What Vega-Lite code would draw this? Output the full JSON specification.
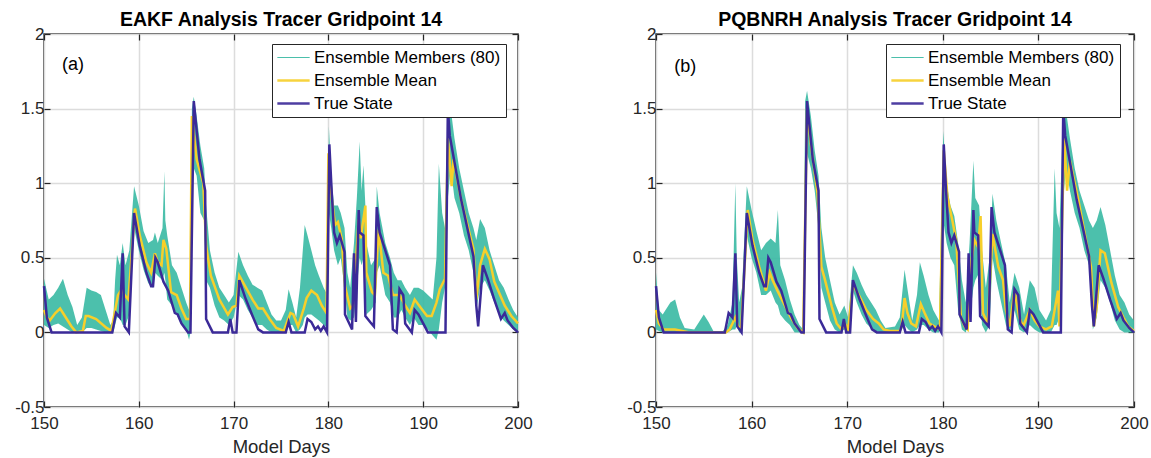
{
"$schema": "https://vega.github.io/schema/vega-lite/v6.json",
"padding": {"left": 13, "top": 8, "right": 0, "bottom": 0},
"spacing": 138,
"bounds": "flush",
"config": {
  "font": "Liberation Sans",
  "view": {"stroke": "#262626", "strokeWidth": 1.5},
  "axis": {"labelFont": "Liberation Sans", "labelFontSize": 17, "labelColor": "#262626", "labelFlush": false, "labelOverlap": false, "titleFont": "Liberation Sans", "titleFontSize": 18.5, "titleFontWeight": "normal", "titleColor": "#262626", "gridColor": "#dcdcdc", "gridWidth": 1.5, "domain": false, "tickColor": "#262626", "tickSize": -6, "tickWidth": 1.2},
  "title": {"font": "Liberation Sans", "fontSize": 19.5, "fontWeight": "bold", "color": "#000000", "offset": -5},
  "legend": {"labelLimit": 400}
},
"datasets": {
 "truth": [
  {"d":150,"v":0.31},{"d":150.3,"v":0.1},{"d":150.8,"v":0},{"d":157.2,"v":0},{"d":157.6,"v":0.13},{"d":158,"v":0.1},{"d":158.3,"v":0.53},{"d":158.5,"v":0.04},{"d":158.95,"v":0},{"d":159.5,"v":0.8},{"d":160.1,"v":0.58},{"d":160.8,"v":0.4},{"d":161.3,"v":0.31},{"d":161.5,"v":0.31},{"d":161.75,"v":0.5},{"d":162,"v":0.47},{"d":162.6,"v":0.34},{"d":163.1,"v":0.28},{"d":163.8,"v":0.13},{"d":164.1,"v":0.12},{"d":164.5,"v":0.06},{"d":165.2,"v":0},{"d":165.45,"v":0},{"d":165.8,"v":1.55},{"d":166.4,"v":1.16},{"d":167,"v":0.95},{"d":167.1,"v":0.09},{"d":167.8,"v":0},{"d":169.4,"v":0},{"d":169.65,"v":0.09},{"d":169.9,"v":0},{"d":170.3,"v":0},{"d":170.6,"v":0.35},{"d":171.3,"v":0.22},{"d":172,"v":0.11},{"d":172.6,"v":0.02},{"d":173.1,"v":0},{"d":175.5,"v":0},{"d":175.8,"v":0.07},{"d":176.1,"v":0},{"d":177.5,"v":0},{"d":177.8,"v":0.09},{"d":178.2,"v":0.07},{"d":178.6,"v":0.02},{"d":178.9,"v":0.04},{"d":179.2,"v":0.01},{"d":179.5,"v":0.04},{"d":179.85,"v":0},{"d":180.1,"v":1.26},{"d":180.35,"v":0.94},{"d":180.6,"v":0.67},{"d":180.9,"v":0.6},{"d":181.2,"v":0.65},{"d":181.7,"v":0.54},{"d":181.75,"v":0.12},{"d":182.5,"v":0.02},{"d":182.7,"v":0.53},{"d":182.9,"v":0.07},{"d":183.2,"v":0.82},{"d":183.3,"v":0.67},{"d":183.7,"v":0.65},{"d":183.9,"v":0.11},{"d":184.4,"v":0.07},{"d":184.8,"v":0.04},{"d":185.1,"v":0.84},{"d":185.4,"v":0.67},{"d":186.5,"v":0.45},{"d":186.8,"v":0.02},{"d":187.2,"v":0},{"d":187.5,"v":0.29},{"d":187.9,"v":0.25},{"d":188.1,"v":0.06},{"d":188.8,"v":0},{"d":189.1,"v":0.15},{"d":189.5,"v":0.12},{"d":190,"v":0.06},{"d":190.5,"v":0},{"d":192.35,"v":0},{"d":192.6,"v":1.5},{"d":192.8,"v":1.32},{"d":194,"v":0.89},{"d":195.3,"v":0.51},{"d":195.6,"v":0.18},{"d":195.8,"v":0.04},{"d":196.3,"v":0.45},{"d":196.8,"v":0.36},{"d":197.5,"v":0.22},{"d":198.2,"v":0.09},{"d":198.6,"v":0.13},{"d":198.9,"v":0.08},{"d":199.5,"v":0.03},{"d":200,"v":0}
 ],
 "meanA": [
  {"d":150,"v":0.15},{"d":150.3,"v":0.1},{"d":150.6,"v":0.08},{"d":151.2,"v":0.13},{"d":151.7,"v":0.16},{"d":152,"v":0.13},{"d":152.4,"v":0.09},{"d":152.9,"v":0.04},{"d":153.4,"v":0},{"d":154.1,"v":0.01},{"d":154.4,"v":0.11},{"d":154.7,"v":0.11},{"d":155.5,"v":0.09},{"d":156.6,"v":0.03},{"d":157.1,"v":0.01},{"d":157.8,"v":0.25},{"d":158.2,"v":0.29},{"d":158.5,"v":0.25},{"d":158.9,"v":0.22},{"d":159.6,"v":0.83},{"d":160.1,"v":0.65},{"d":160.8,"v":0.47},{"d":161.3,"v":0.4},{"d":161.7,"v":0.53},{"d":162,"v":0.47},{"d":162.4,"v":0.45},{"d":162.6,"v":0.62},{"d":162.9,"v":0.56},{"d":163.4,"v":0.27},{"d":164,"v":0.25},{"d":164.5,"v":0.16},{"d":165,"v":0.09},{"d":165.4,"v":0.09},{"d":165.6,"v":1.45},{"d":166.1,"v":1.16},{"d":166.8,"v":1.0},{"d":167.1,"v":0.58},{"d":167.6,"v":0.38},{"d":168.5,"v":0.22},{"d":169.4,"v":0.12},{"d":169.9,"v":0.17},{"d":170.3,"v":0.18},{"d":170.6,"v":0.38},{"d":171.3,"v":0.3},{"d":172,"v":0.22},{"d":172.6,"v":0.16},{"d":173.1,"v":0.16},{"d":173.8,"v":0.09},{"d":174.5,"v":0.03},{"d":175.3,"v":0.01},{"d":175.7,"v":0.08},{"d":176,"v":0.13},{"d":176.3,"v":0.12},{"d":176.8,"v":0.04},{"d":177.4,"v":0.16},{"d":177.7,"v":0.23},{"d":178.2,"v":0.28},{"d":178.8,"v":0.25},{"d":179.3,"v":0.18},{"d":179.8,"v":0.13},{"d":180,"v":1.2},{"d":180.35,"v":0.9},{"d":180.7,"v":0.72},{"d":181,"v":0.74},{"d":181.4,"v":0.63},{"d":181.75,"v":0.31},{"d":182.3,"v":0.16},{"d":182.6,"v":0.18},{"d":183.2,"v":0.76},{"d":183.4,"v":0.63},{"d":183.9,"v":0.85},{"d":184,"v":0.4},{"d":184.6,"v":0.27},{"d":184.9,"v":0.25},{"d":185.3,"v":0.69},{"d":185.8,"v":0.4},{"d":186.3,"v":0.38},{"d":186.8,"v":0.25},{"d":187.5,"v":0.25},{"d":188.1,"v":0.18},{"d":188.6,"v":0.13},{"d":189.1,"v":0.22},{"d":189.8,"v":0.16},{"d":190.4,"v":0.11},{"d":190.9,"v":0.11},{"d":191.4,"v":0.2},{"d":191.75,"v":0.29},{"d":192.3,"v":0.36},{"d":192.6,"v":1.3},{"d":193,"v":0.98},{"d":193.2,"v":1.16},{"d":194,"v":0.89},{"d":195.3,"v":0.56},{"d":195.6,"v":0.22},{"d":196,"v":0.45},{"d":196.5,"v":0.56},{"d":197,"v":0.49},{"d":197.5,"v":0.34},{"d":198.6,"v":0.18},{"d":199.3,"v":0.11},{"d":200,"v":0.06}
 ],
 "envA": [
  {"d":150,"lo":0.05,"hi":0.36},{"d":150.5,"lo":0.03,"hi":0.22},{"d":151,"lo":0.05,"hi":0.25},{"d":151.5,"lo":0.06,"hi":0.3},{"d":152,"lo":0.04,"hi":0.36},{"d":152.5,"lo":0.02,"hi":0.25},{"d":153,"lo":0,"hi":0.17},{"d":153.5,"lo":0,"hi":0.05},{"d":154,"lo":0,"hi":0.1},{"d":154.5,"lo":0.03,"hi":0.3},{"d":155,"lo":0.03,"hi":0.28},{"d":155.5,"lo":0.02,"hi":0.27},{"d":156,"lo":0.01,"hi":0.25},{"d":156.5,"lo":0,"hi":0.15},{"d":157,"lo":0,"hi":0.05},{"d":157.3,"lo":0,"hi":0.08},{"d":157.5,"lo":0.05,"hi":0.35},{"d":157.7,"lo":0.1,"hi":0.52},{"d":158,"lo":0.1,"hi":0.45},{"d":158.3,"lo":0.05,"hi":0.6},{"d":158.6,"lo":0.05,"hi":0.45},{"d":159,"lo":0.12,"hi":0.55},{"d":159.5,"lo":0.7,"hi":0.98},{"d":160,"lo":0.55,"hi":0.85},{"d":160.5,"lo":0.42,"hi":0.68},{"d":161,"lo":0.33,"hi":0.6},{"d":161.5,"lo":0.3,"hi":0.62},{"d":161.7,"lo":0.4,"hi":0.67},{"d":162,"lo":0.38,"hi":0.6},{"d":162.5,"lo":0.35,"hi":0.7},{"d":162.7,"lo":0.4,"hi":1.08},{"d":162.8,"lo":0.35,"hi":0.75},{"d":163,"lo":0.22,"hi":0.65},{"d":163.5,"lo":0.18,"hi":0.45},{"d":164,"lo":0.12,"hi":0.4},{"d":164.5,"lo":0.05,"hi":0.3},{"d":165,"lo":0.02,"hi":0.2},{"d":165.3,"lo":-0.05,"hi":0.15},{"d":165.45,"lo":0,"hi":0.15},{"d":165.6,"lo":0.9,"hi":1.5},{"d":165.8,"lo":1.1,"hi":1.58},{"d":166.1,"lo":1.05,"hi":1.45},{"d":166.5,"lo":0.8,"hi":1.25},{"d":166.9,"lo":0.75,"hi":1.1},{"d":167.1,"lo":0.35,"hi":0.85},{"d":167.5,"lo":0.3,"hi":0.55},{"d":168,"lo":0.18,"hi":0.4},{"d":168.5,"lo":0.1,"hi":0.3},{"d":169,"lo":0.08,"hi":0.25},{"d":169.5,"lo":0.05,"hi":0.2},{"d":170,"lo":0.1,"hi":0.25},{"d":170.5,"lo":0.25,"hi":0.54},{"d":171,"lo":0.22,"hi":0.45},{"d":171.5,"lo":0.15,"hi":0.38},{"d":172,"lo":0.1,"hi":0.32},{"d":172.5,"lo":0.05,"hi":0.3},{"d":173,"lo":0.05,"hi":0.28},{"d":173.5,"lo":0.02,"hi":0.2},{"d":174,"lo":0,"hi":0.12},{"d":174.5,"lo":0,"hi":0.08},{"d":175,"lo":0,"hi":0.08},{"d":175.5,"lo":0,"hi":0.15},{"d":175.8,"lo":0.05,"hi":0.29},{"d":176.2,"lo":0.05,"hi":0.2},{"d":176.6,"lo":0,"hi":0.1},{"d":177,"lo":0.02,"hi":0.3},{"d":177.3,"lo":0.05,"hi":0.55},{"d":177.5,"lo":0.1,"hi":0.72},{"d":177.8,"lo":0.12,"hi":0.65},{"d":178.2,"lo":0.12,"hi":0.55},{"d":178.6,"lo":0.1,"hi":0.45},{"d":179,"lo":0.08,"hi":0.38},{"d":179.5,"lo":0.05,"hi":0.3},{"d":179.9,"lo":0.03,"hi":0.25},{"d":180.05,"lo":0.8,"hi":1.38},{"d":180.3,"lo":0.7,"hi":1.05},{"d":180.6,"lo":0.55,"hi":0.85},{"d":181,"lo":0.45,"hi":0.85},{"d":181.3,"lo":0.5,"hi":0.8},{"d":181.7,"lo":0.3,"hi":0.7},{"d":182,"lo":0.1,"hi":0.4},{"d":182.3,"lo":0.08,"hi":0.3},{"d":182.7,"lo":0.1,"hi":0.6},{"d":183,"lo":0.3,"hi":0.9},{"d":183.3,"lo":0.5,"hi":1.28},{"d":183.5,"lo":0.45,"hi":0.95},{"d":183.7,"lo":0.5,"hi":1.12},{"d":183.9,"lo":0.4,"hi":0.85},{"d":184,"lo":0.12,"hi":0.6},{"d":184.5,"lo":0.15,"hi":0.45},{"d":185,"lo":0.2,"hi":0.5},{"d":185.1,"lo":0.4,"hi":0.98},{"d":185.4,"lo":0.45,"hi":0.8},{"d":186,"lo":0.25,"hi":0.6},{"d":186.5,"lo":0.2,"hi":0.5},{"d":186.9,"lo":0.1,"hi":0.4},{"d":187.3,"lo":0.1,"hi":0.35},{"d":187.7,"lo":0.15,"hi":0.35},{"d":188.1,"lo":0.1,"hi":0.3},{"d":188.6,"lo":0.05,"hi":0.25},{"d":189,"lo":0.1,"hi":0.3},{"d":189.5,"lo":0.05,"hi":0.3},{"d":190,"lo":0.05,"hi":0.28},{"d":190.5,"lo":0.02,"hi":0.25},{"d":191,"lo":-0.02,"hi":0.22},{"d":191.4,"lo":-0.05,"hi":0.5},{"d":191.65,"lo":0.02,"hi":1.13},{"d":192,"lo":0.2,"hi":0.8},{"d":192.3,"lo":0.3,"hi":0.7},{"d":192.6,"lo":0.9,"hi":1.48},{"d":192.9,"lo":1.1,"hi":1.5},{"d":193.3,"lo":0.9,"hi":1.3},{"d":193.8,"lo":0.8,"hi":1.1},{"d":194.3,"lo":0.65,"hi":0.95},{"d":194.8,"lo":0.55,"hi":0.8},{"d":195.3,"lo":0.4,"hi":0.7},{"d":195.6,"lo":0.15,"hi":0.62},{"d":196,"lo":0.3,"hi":0.76},{"d":196.5,"lo":0.35,"hi":0.7},{"d":197,"lo":0.28,"hi":0.55},{"d":197.5,"lo":0.2,"hi":0.45},{"d":198,"lo":0.12,"hi":0.35},{"d":198.5,"lo":0.08,"hi":0.3},{"d":199,"lo":0.05,"hi":0.22},{"d":199.5,"lo":0.02,"hi":0.15},{"d":200,"lo":0,"hi":0.1}
 ],
 "meanB": [
  {"d":150,"v":0.15},{"d":150.3,"v":0.06},{"d":150.8,"v":0.02},{"d":152,"v":0.02},{"d":153.5,"v":0},{"d":157.3,"v":0},{"d":157.7,"v":0.02},{"d":158,"v":0.06},{"d":158.3,"v":0.1},{"d":158.6,"v":0.04},{"d":158.9,"v":0.02},{"d":159.6,"v":0.82},{"d":160.1,"v":0.62},{"d":160.8,"v":0.44},{"d":161.5,"v":0.28},{"d":161.9,"v":0.4},{"d":162.2,"v":0.35},{"d":162.7,"v":0.28},{"d":163.4,"v":0.19},{"d":164.1,"v":0.1},{"d":164.8,"v":0.03},{"d":165.4,"v":0},{"d":165.8,"v":1.5},{"d":166.2,"v":1.26},{"d":166.9,"v":0.93},{"d":167.3,"v":0.44},{"d":167.6,"v":0.37},{"d":168.4,"v":0.17},{"d":168.9,"v":0.06},{"d":169.4,"v":0.02},{"d":169.75,"v":0.06},{"d":170.1,"v":0.02},{"d":170.6,"v":0.32},{"d":171.3,"v":0.24},{"d":172,"v":0.15},{"d":172.7,"v":0.09},{"d":173.3,"v":0.06},{"d":173.8,"v":0.02},{"d":174.5,"v":0.01},{"d":175.5,"v":0.01},{"d":175.7,"v":0.04},{"d":176,"v":0.23},{"d":176.3,"v":0.13},{"d":176.7,"v":0.06},{"d":177.2,"v":0.04},{"d":177.7,"v":0.19},{"d":178.1,"v":0.13},{"d":178.6,"v":0.06},{"d":179.1,"v":0.04},{"d":179.7,"v":0.02},{"d":180.1,"v":1.22},{"d":180.5,"v":0.9},{"d":181,"v":0.75},{"d":181.4,"v":0.62},{"d":181.9,"v":0.1},{"d":182.3,"v":0.04},{"d":182.6,"v":0.02},{"d":183,"v":0.48},{"d":183.3,"v":0.62},{"d":183.7,"v":0.57},{"d":183.95,"v":0.78},{"d":184.2,"v":0.13},{"d":184.7,"v":0.06},{"d":185.2,"v":0.66},{"d":185.8,"v":0.44},{"d":186.3,"v":0.35},{"d":186.6,"v":0.15},{"d":187,"v":0.04},{"d":187.5,"v":0.28},{"d":188,"v":0.1},{"d":188.4,"v":0.04},{"d":189.1,"v":0.15},{"d":189.6,"v":0.08},{"d":190.1,"v":0.04},{"d":190.8,"v":0.02},{"d":191.4,"v":0.04},{"d":192.05,"v":0.28},{"d":192.2,"v":0.04},{"d":192.7,"v":1.3},{"d":193,"v":0.95},{"d":193.3,"v":1.15},{"d":194.2,"v":0.88},{"d":195.5,"v":0.44},{"d":195.8,"v":0.04},{"d":196.1,"v":0.17},{"d":196.5,"v":0.55},{"d":196.95,"v":0.53},{"d":197.65,"v":0.33},{"d":198.35,"v":0.17},{"d":198.9,"v":0.1},{"d":199.4,"v":0.04},{"d":200,"v":0.01}
 ],
 "envB": [
  {"d":150,"lo":0.02,"hi":0.4},{"d":150.3,"lo":0.01,"hi":0.15},{"d":150.7,"lo":0,"hi":0.12},{"d":151,"lo":0,"hi":0.15},{"d":151.5,"lo":0,"hi":0.2},{"d":152,"lo":0,"hi":0.22},{"d":152.5,"lo":0,"hi":0.1},{"d":153,"lo":0,"hi":0.03},{"d":154,"lo":0,"hi":0.02},{"d":154.8,"lo":0,"hi":0.1},{"d":155,"lo":0,"hi":0.12},{"d":155.5,"lo":0,"hi":0.07},{"d":156,"lo":0,"hi":0.01},{"d":157,"lo":0,"hi":0.01},{"d":157.5,"lo":0,"hi":0.05},{"d":158,"lo":0.02,"hi":0.2},{"d":158.3,"lo":0.02,"hi":1.0},{"d":158.45,"lo":0.05,"hi":0.5},{"d":158.7,"lo":0,"hi":0.2},{"d":159,"lo":0,"hi":0.3},{"d":159.5,"lo":0.65,"hi":0.98},{"d":160,"lo":0.5,"hi":0.82},{"d":160.5,"lo":0.4,"hi":0.68},{"d":161,"lo":0.25,"hi":0.55},{"d":161.5,"lo":0.25,"hi":0.6},{"d":162,"lo":0.28,"hi":0.63},{"d":162.5,"lo":0.2,"hi":0.6},{"d":162.75,"lo":0.18,"hi":0.82},{"d":163,"lo":0.12,"hi":0.45},{"d":163.5,"lo":0.08,"hi":0.35},{"d":164,"lo":0.05,"hi":0.22},{"d":164.5,"lo":0,"hi":0.12},{"d":165,"lo":0,"hi":0.05},{"d":165.4,"lo":0,"hi":0.02},{"d":165.6,"lo":1.0,"hi":1.55},{"d":165.8,"lo":1.2,"hi":1.62},{"d":166.2,"lo":1.1,"hi":1.45},{"d":166.6,"lo":0.95,"hi":1.22},{"d":167,"lo":0.7,"hi":1.05},{"d":167.3,"lo":0.3,"hi":0.7},{"d":167.7,"lo":0.2,"hi":0.5},{"d":168.2,"lo":0.08,"hi":0.35},{"d":168.7,"lo":0.02,"hi":0.2},{"d":169.2,"lo":0,"hi":0.12},{"d":169.7,"lo":0.02,"hi":0.18},{"d":170.1,"lo":0,"hi":0.1},{"d":170.6,"lo":0.28,"hi":0.45},{"d":171,"lo":0.2,"hi":0.4},{"d":171.5,"lo":0.12,"hi":0.32},{"d":172,"lo":0.06,"hi":0.25},{"d":172.5,"lo":0.03,"hi":0.2},{"d":173,"lo":0.01,"hi":0.15},{"d":173.5,"lo":0,"hi":0.08},{"d":174,"lo":0,"hi":0.03},{"d":175,"lo":0,"hi":0.04},{"d":175.5,"lo":0,"hi":0.1},{"d":176,"lo":0.05,"hi":0.42},{"d":176.4,"lo":0.02,"hi":0.25},{"d":176.8,"lo":0,"hi":0.08},{"d":177.3,"lo":0.02,"hi":0.25},{"d":177.6,"lo":0.05,"hi":0.47},{"d":178,"lo":0.05,"hi":0.38},{"d":178.5,"lo":0.02,"hi":0.25},{"d":179,"lo":0,"hi":0.15},{"d":179.6,"lo":0,"hi":0.08},{"d":180.05,"lo":0.75,"hi":1.35},{"d":180.4,"lo":0.6,"hi":1.0},{"d":180.8,"lo":0.5,"hi":0.85},{"d":181.2,"lo":0.45,"hi":0.78},{"d":181.6,"lo":0.15,"hi":0.6},{"d":182,"lo":0.02,"hi":0.35},{"d":182.4,"lo":0,"hi":0.2},{"d":182.8,"lo":0.1,"hi":0.6},{"d":183.2,"lo":0.3,"hi":1.15},{"d":183.4,"lo":0.35,"hi":0.9},{"d":183.8,"lo":0.4,"hi":0.85},{"d":184.1,"lo":0.05,"hi":0.55},{"d":184.5,"lo":0,"hi":0.3},{"d":184.9,"lo":0.05,"hi":0.5},{"d":185.2,"lo":0.5,"hi":0.93},{"d":185.6,"lo":0.35,"hi":0.75},{"d":186.1,"lo":0.2,"hi":0.6},{"d":186.6,"lo":0.05,"hi":0.45},{"d":187,"lo":0,"hi":0.2},{"d":187.5,"lo":0.15,"hi":0.4},{"d":188,"lo":0.02,"hi":0.3},{"d":188.5,"lo":0,"hi":0.12},{"d":189.1,"lo":0.05,"hi":0.35},{"d":189.6,"lo":0.02,"hi":0.3},{"d":190.1,"lo":0,"hi":0.15},{"d":190.8,"lo":0,"hi":0.08},{"d":191.3,"lo":0,"hi":0.15},{"d":191.7,"lo":0.05,"hi":1.1},{"d":191.9,"lo":0.05,"hi":0.8},{"d":192.2,"lo":0.1,"hi":0.7},{"d":192.6,"lo":0.9,"hi":1.5},{"d":192.9,"lo":1.1,"hi":1.48},{"d":193.3,"lo":0.95,"hi":1.3},{"d":193.8,"lo":0.8,"hi":1.1},{"d":194.3,"lo":0.7,"hi":0.95},{"d":194.8,"lo":0.55,"hi":0.85},{"d":195.3,"lo":0.45,"hi":0.75},{"d":195.7,"lo":0.02,"hi":0.7},{"d":196.1,"lo":0.1,"hi":0.75},{"d":196.5,"lo":0.35,"hi":0.84},{"d":197,"lo":0.3,"hi":0.72},{"d":197.5,"lo":0.2,"hi":0.55},{"d":198,"lo":0.08,"hi":0.38},{"d":198.5,"lo":0.02,"hi":0.25},{"d":199,"lo":0,"hi":0.2},{"d":199.5,"lo":0,"hi":0.12},{"d":200,"lo":0,"hi":0.08}
 ],
 "labA": [{"d":153.05,"v":1.79,"label":"(a)"}],
 "labB": [{"d":153.05,"v":1.78,"label":"(b)"}]
},
"resolve": {"scale": {"color": "independent"}, "legend": {"color": "independent"}},
"hconcat": [
 {
  "title": "EAKF Analysis Tracer Gridpoint 14",
  "width": 474, "height": 373,
  "resolve": {"axis": {"x": "independent", "y": "independent"}},
  "layer": [
   {
    "data": {"name": "envA"},
    "mark": {"type": "area", "opacity": 0.9},
    "encoding": {
     "x": {"field": "d", "type": "quantitative", "scale": {"domain": [150, 200], "nice": false, "zero": false}, "axis": {"values": [150,160,170,180,190,200], "title": "Model Days", "labelExpr": "'' + datum.value", "labelPadding": 14, "titlePadding": 6}},
     "y": {"field": "lo", "type": "quantitative", "scale": {"domain": [-0.5, 2], "nice": false, "zero": false}, "axis": {"values": [-0.5,0,0.5,1,1.5,2], "title": null, "labelExpr": "'' + datum.value", "labelPadding": 6}},
     "y2": {"field": "hi"},
     "color": {"datum": "Ensemble Members (80)", "type": "nominal",
      "scale": {"domain": ["Ensemble Members (80)", "Ensemble Mean", "True State"], "range": ["#38b9a3", "#f7cf2a", "#3b2a98"]},
      "legend": {"orient": "none", "legendX": 228, "legendY": 10, "title": null, "symbolType": "M-1.9,0L1.9,0", "symbolSize": 289, "symbolOffset": 8, "symbolStrokeWidth": {"expr": "datum.value === 'Ensemble Members (80)' ? 1.2 : 2.5"}, "symbolStrokeColor": {"expr": "datum.value === 'Ensemble Members (80)' ? '#5cc8b5' : datum.value === 'Ensemble Mean' ? '#f7cf2a' : '#3b2a98'"}, "labelFontSize": 17, "labelFont": "Liberation Sans", "labelColor": "#000000", "labelLimit": 400, "strokeColor": "#262626", "fillColor": "#ffffff", "padding": 5, "rowPadding": 5, "labelOffset": 12}
     }
    }
   },
   {
    "data": {"name": "meanA"},
    "mark": {"type": "line", "strokeWidth": 2.5},
    "encoding": {
     "x": {"field": "d", "type": "quantitative", "scale": {"domain": [150, 200], "nice": false, "zero": false}, "axis": null},
     "y": {"field": "v", "type": "quantitative", "scale": {"domain": [-0.5, 2], "nice": false, "zero": false}, "axis": null},
     "color": {"datum": "Ensemble Mean", "type": "nominal", "scale": {"domain": ["Ensemble Members (80)", "Ensemble Mean", "True State"], "range": ["#38b9a3", "#f7cf2a", "#3b2a98"]}, "legend": null}
    }
   },
   {
    "data": {"name": "truth"},
    "mark": {"type": "line", "strokeWidth": 2.5},
    "encoding": {
     "x": {"field": "d", "type": "quantitative", "scale": {"domain": [150, 200], "nice": false, "zero": false}, "axis": {"orient": "top", "values": [150,160,170,180,190,200], "labels": false, "grid": false, "title": null}},
     "y": {"field": "v", "type": "quantitative", "scale": {"domain": [-0.5, 2], "nice": false, "zero": false}, "axis": {"orient": "right", "values": [-0.5,0,0.5,1,1.5,2], "labels": false, "grid": false, "title": null}},
     "color": {"datum": "True State", "type": "nominal", "scale": {"domain": ["Ensemble Members (80)", "Ensemble Mean", "True State"], "range": ["#38b9a3", "#f7cf2a", "#3b2a98"]}, "legend": null}
    }
   },
   {
    "data": {"name": "labA"},
    "mark": {"type": "text", "fontSize": 18, "font": "Liberation Sans", "color": "#000000", "align": "center", "baseline": "middle"},
    "encoding": {
     "x": {"field": "d", "type": "quantitative", "axis": null},
     "y": {"field": "v", "type": "quantitative", "axis": null},
     "text": {"field": "label"}
    }
   }
  ]
 },
 {
  "title": "PQBNRH Analysis Tracer Gridpoint 14",
  "width": 478, "height": 373,
  "resolve": {"axis": {"x": "independent", "y": "independent"}},
  "layer": [
   {
    "data": {"name": "envB"},
    "mark": {"type": "area", "opacity": 0.9},
    "encoding": {
     "x": {"field": "d", "type": "quantitative", "scale": {"domain": [150, 200], "nice": false, "zero": false}, "axis": {"values": [150,160,170,180,190,200], "title": "Model Days", "labelExpr": "'' + datum.value", "labelPadding": 14, "titlePadding": 6}},
     "y": {"field": "lo", "type": "quantitative", "scale": {"domain": [-0.5, 2], "nice": false, "zero": false}, "axis": {"values": [-0.5,0,0.5,1,1.5,2], "title": null, "labelExpr": "'' + datum.value", "labelPadding": 6}},
     "y2": {"field": "hi"},
     "color": {"datum": "Ensemble Members (80)", "type": "nominal",
      "scale": {"domain": ["Ensemble Members (80)", "Ensemble Mean", "True State"], "range": ["#38b9a3", "#f7cf2a", "#3b2a98"]},
      "legend": {"orient": "none", "legendX": 230, "legendY": 10, "title": null, "symbolType": "M-1.9,0L1.9,0", "symbolSize": 289, "symbolOffset": 8, "symbolStrokeWidth": {"expr": "datum.value === 'Ensemble Members (80)' ? 1.2 : 2.5"}, "symbolStrokeColor": {"expr": "datum.value === 'Ensemble Members (80)' ? '#5cc8b5' : datum.value === 'Ensemble Mean' ? '#f7cf2a' : '#3b2a98'"}, "labelFontSize": 17, "labelFont": "Liberation Sans", "labelColor": "#000000", "labelLimit": 400, "strokeColor": "#262626", "fillColor": "#ffffff", "padding": 5, "rowPadding": 5, "labelOffset": 12}
     }
    }
   },
   {
    "data": {"name": "meanB"},
    "mark": {"type": "line", "strokeWidth": 2.5},
    "encoding": {
     "x": {"field": "d", "type": "quantitative", "scale": {"domain": [150, 200], "nice": false, "zero": false}, "axis": null},
     "y": {"field": "v", "type": "quantitative", "scale": {"domain": [-0.5, 2], "nice": false, "zero": false}, "axis": null},
     "color": {"datum": "Ensemble Mean", "type": "nominal", "scale": {"domain": ["Ensemble Members (80)", "Ensemble Mean", "True State"], "range": ["#38b9a3", "#f7cf2a", "#3b2a98"]}, "legend": null}
    }
   },
   {
    "data": {"name": "truth"},
    "mark": {"type": "line", "strokeWidth": 2.5},
    "encoding": {
     "x": {"field": "d", "type": "quantitative", "scale": {"domain": [150, 200], "nice": false, "zero": false}, "axis": {"orient": "top", "values": [150,160,170,180,190,200], "labels": false, "grid": false, "title": null}},
     "y": {"field": "v", "type": "quantitative", "scale": {"domain": [-0.5, 2], "nice": false, "zero": false}, "axis": {"orient": "right", "values": [-0.5,0,0.5,1,1.5,2], "labels": false, "grid": false, "title": null}},
     "color": {"datum": "True State", "type": "nominal", "scale": {"domain": ["Ensemble Members (80)", "Ensemble Mean", "True State"], "range": ["#38b9a3", "#f7cf2a", "#3b2a98"]}, "legend": null}
    }
   },
   {
    "data": {"name": "labB"},
    "mark": {"type": "text", "fontSize": 18, "font": "Liberation Sans", "color": "#000000", "align": "center", "baseline": "middle"},
    "encoding": {
     "x": {"field": "d", "type": "quantitative", "axis": null},
     "y": {"field": "v", "type": "quantitative", "axis": null},
     "text": {"field": "label"}
    }
   }
  ]
 }
]
}
